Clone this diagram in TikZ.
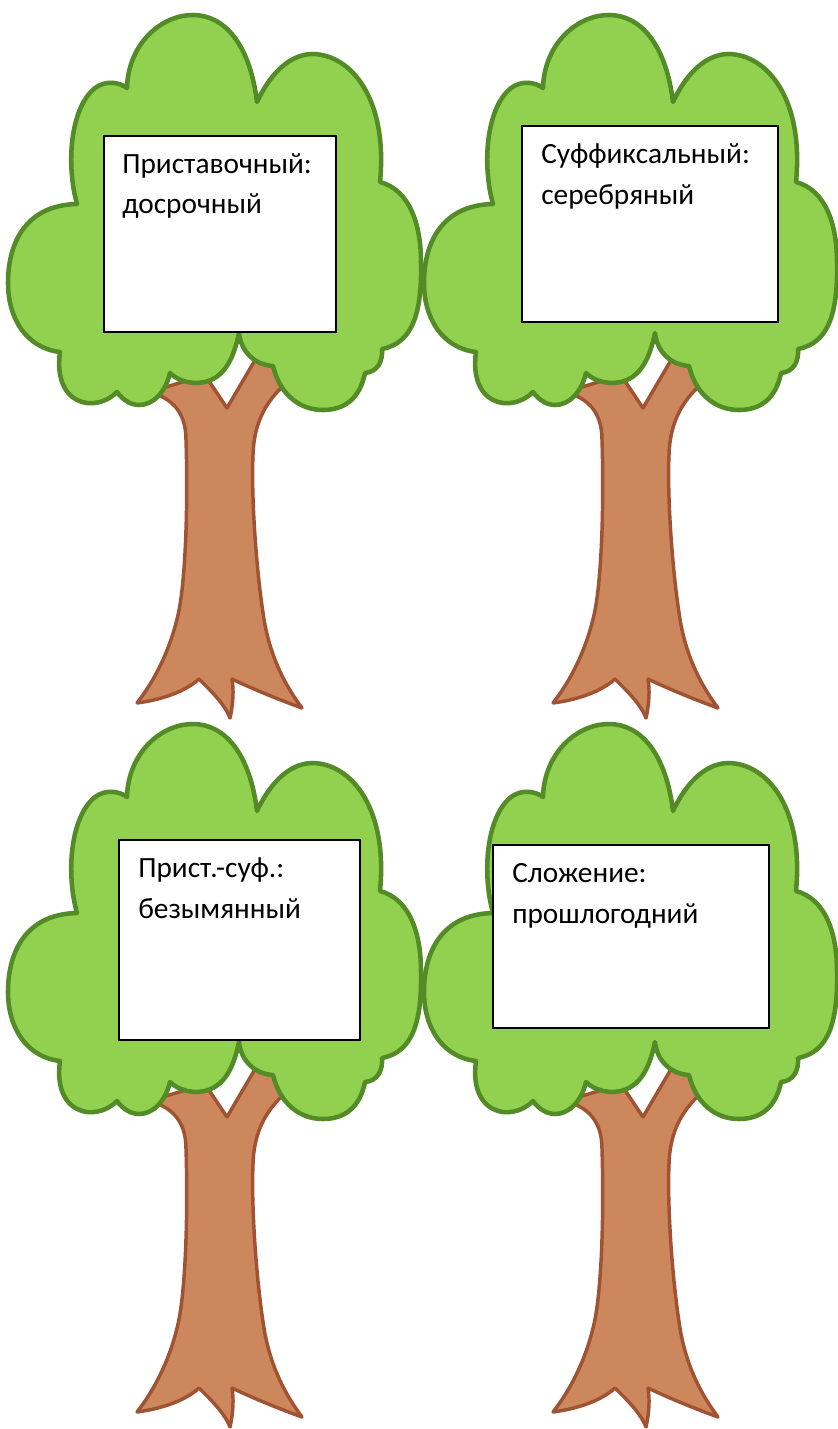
\documentclass[tikz,border=0pt]{standalone}
\usepackage{fontspec}
\setmainfont{Carlito}
\definecolor{leaf}{RGB}{146,208,80}
\definecolor{leafline}{RGB}{83,139,39}
\definecolor{bark}{RGB}{204,136,92}
\definecolor{barkline}{RGB}{160,83,50}
\tikzset{
  crownstyle/.style={fill=leaf, draw=leafline, line width=3.4pt, line join=round},
  trunkstyle/.style={fill=bark, draw=barkline, line width=2.6pt, line join=round},
  cardbox/.style={draw=black, fill=white, line width=1.3pt, rectangle, inner sep=0pt, anchor=north west},
  cardtext/.style={anchor=base west, inner sep=0pt, font=\fontsize{22}{26}\selectfont},
  leaftree/.pic={
    % trunk
    \path[trunkstyle] (150,392) .. controls (170,398) and (186,410) .. (186,440)
      .. controls (188,500) and (186,580) .. (178,615)
      .. controls (170,650) and (155,680) .. (137,703)
      .. controls (160,700) and (185,692) .. (199,679)
      .. controls (210,690) and (224,703) .. (230,718)
      .. controls (233,705) and (234,690) .. (232,679)
      .. controls (255,690) and (280,700) .. (302,708)
      .. controls (285,685) and (272,660) .. (265,625)
      .. controls (257,580) and (251,500) .. (253,455)
      .. controls (254,420) and (268,398) .. (290,380)
      -- (270,350) -- (258,355) -- (227,408) -- (205,375) -- cycle;
    % crown
    \path[crownstyle] (127,88) .. controls (128,45) and (160,15) .. (193,15)
      .. controls (225,15) and (250,45) .. (257,102)
      .. controls (272,70) and (292,54) .. (313,54)
      .. controls (352,55) and (388,100) .. (380,182)
      .. controls (410,190) and (421,225) .. (421,262)
      .. controls (422,310) and (414,343) .. (382,349)
      .. controls (383,362) and (377,372) .. (365,373)
      .. controls (360,398) and (345,410) .. (323,410)
      .. controls (300,410) and (280,395) .. (273,366)
      .. controls (255,365) and (241,352) .. (239,333)
      .. controls (233,362) and (222,382) .. (197,383)
      .. controls (186,383) and (176,379) .. (170,373)
      .. controls (165,394) and (152,405) .. (139,405)
      .. controls (130,405) and (122,399) .. (117,392)
      .. controls (108,401) and (97,404) .. (87,403)
      .. controls (66,400) and (56,380) .. (60,352)
      .. controls (26,348) and (8,318) .. (8,283)
      .. controls (8,240) and (28,205) .. (77,204)
      .. controls (66,165) and (70,108) .. (95,88)
      .. controls (106,80) and (119,82) .. (127,88) -- cycle;
  }
}
\begin{document}
\begin{tikzpicture}[x=0.75pt, y=-0.75pt]
  \useasboundingbox (0,0) rectangle (838,1429);
  \pic (tA) at (0,0) {leaftree};
  \pic (tB) at (416,0) {leaftree};
  \pic (tC) at (0,709) {leaftree};
  \pic (tD) at (416,709) {leaftree};

  \node[cardbox, minimum width=174pt, minimum height=147pt] (b1) at (103,135) {};
  \node[cardbox, minimum width=192pt, minimum height=147pt] (b2) at (521,125) {};
  \node[cardbox, minimum width=180.75pt, minimum height=150pt] (b3) at (118,839) {};
  \node[cardbox, minimum width=207pt, minimum height=137.25pt] (b4) at (492,844) {};

  \node[cardtext] (t1a) at (122,173) {Приставочный:};
  \node[cardtext] (t1b) at (122,213) {досрочный};
  \node[cardtext] (t2a) at (541,163) {Суффиксальный:};
  \node[cardtext] (t2b) at (541,204) {серебряный};
  \node[cardtext] (t3a) at (138,877) {Прист.-суф.:};
  \node[cardtext] (t3b) at (138,918) {безымянный};
  \node[cardtext] (t4a) at (512,882) {Сложение:};
  \node[cardtext] (t4b) at (512,923) {прошлогодний};
\end{tikzpicture}
\end{document}
